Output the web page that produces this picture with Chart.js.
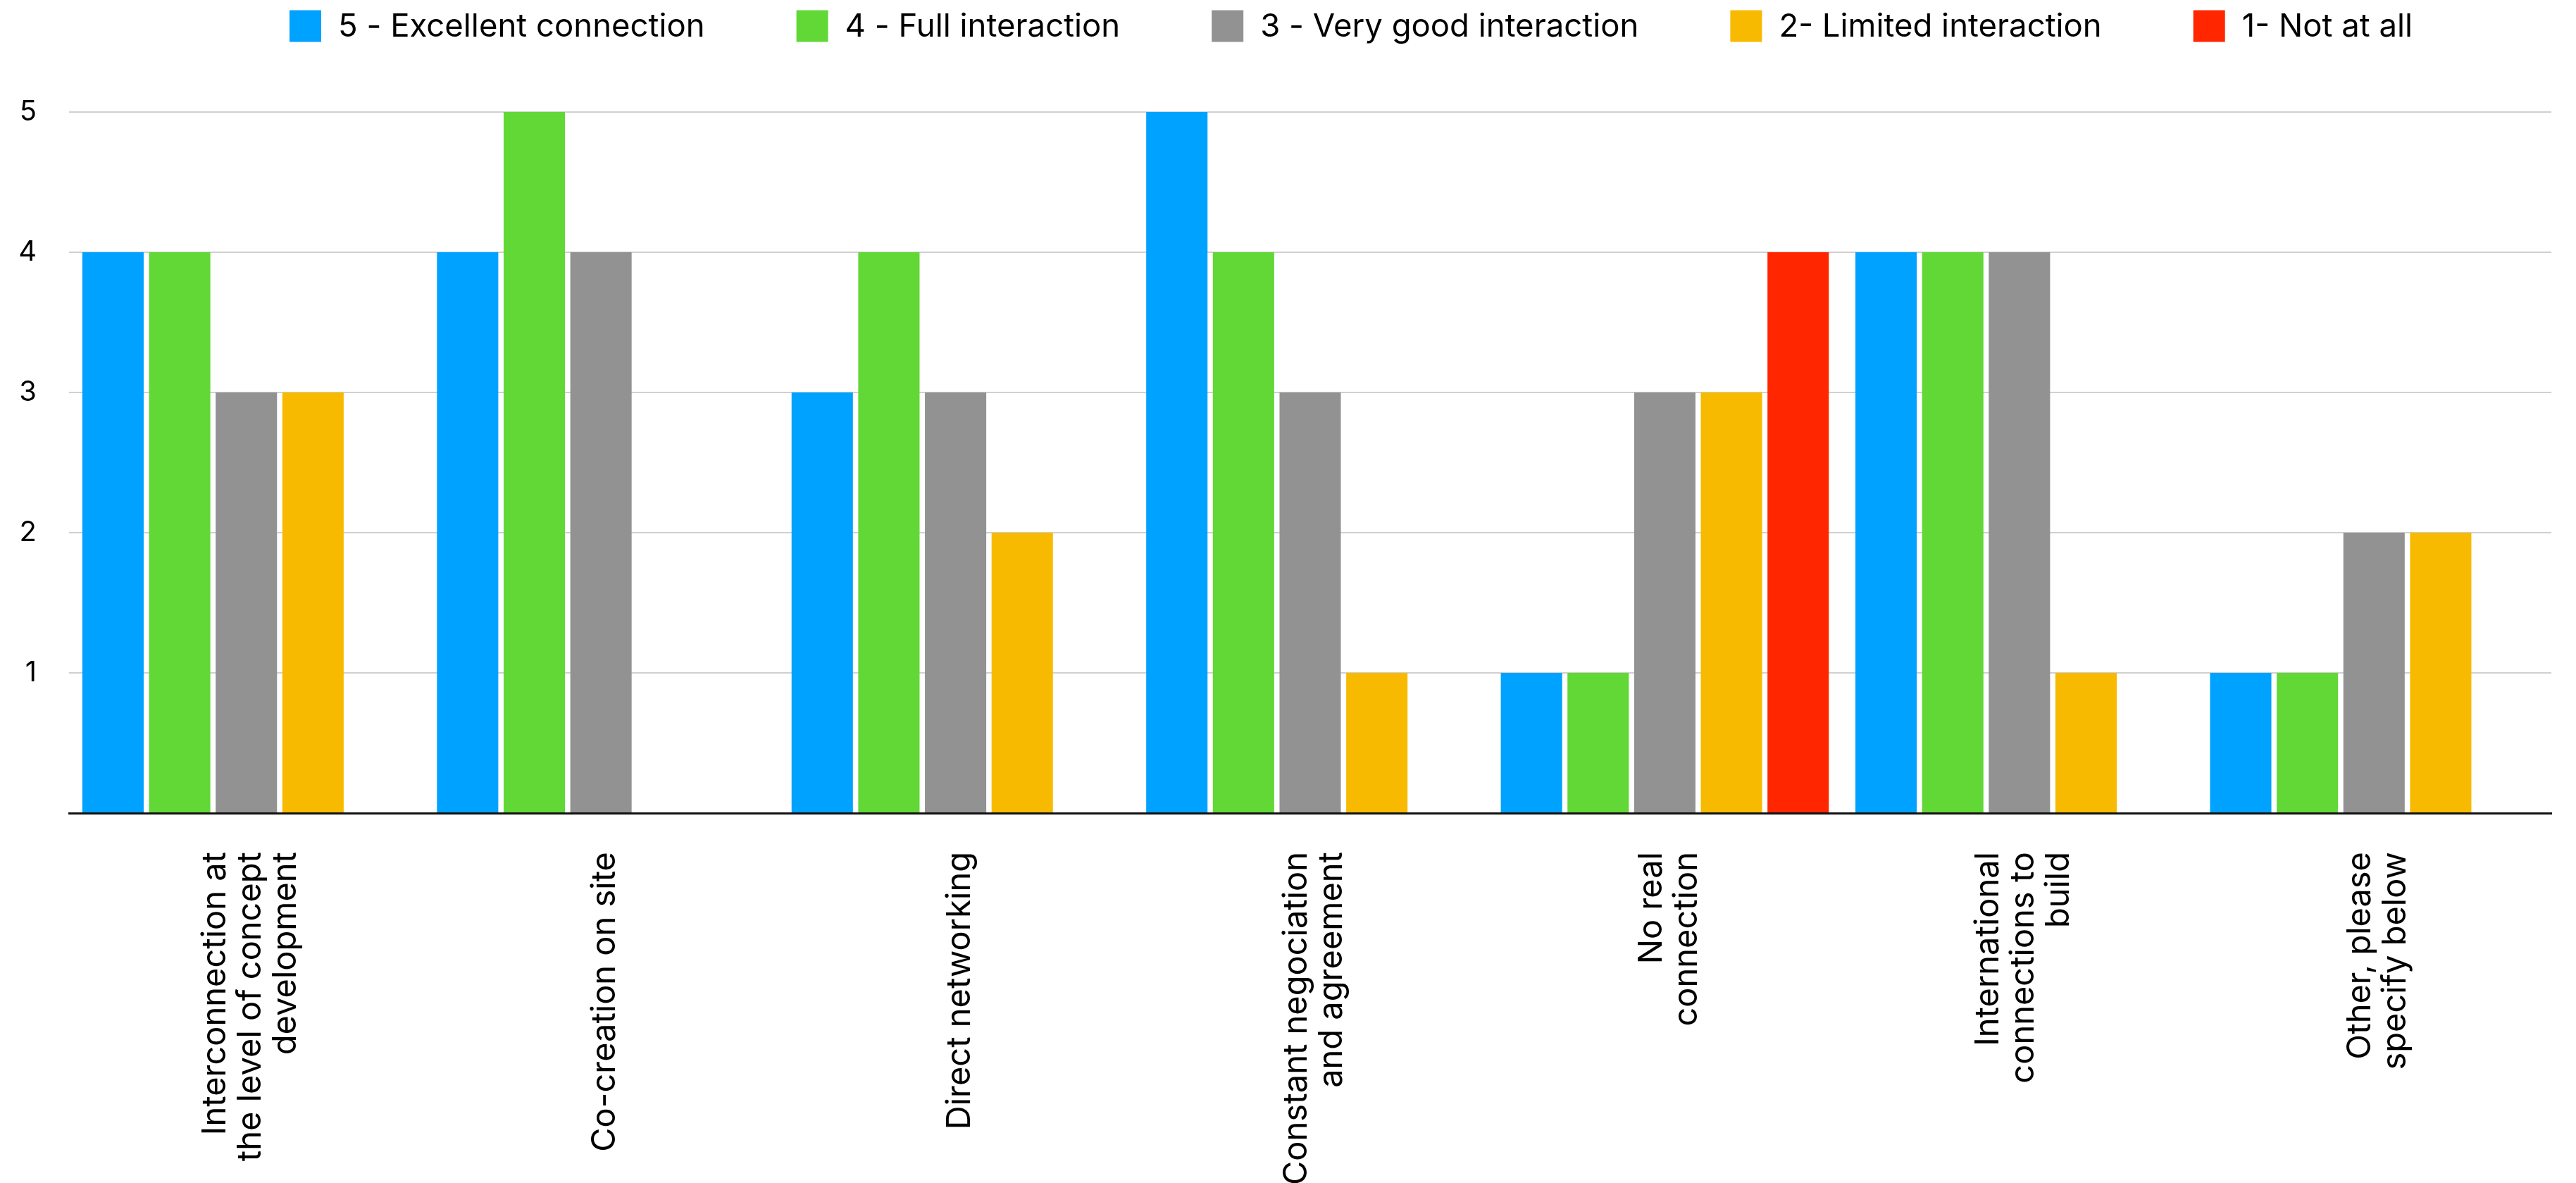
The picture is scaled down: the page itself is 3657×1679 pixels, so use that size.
<!DOCTYPE html>
<html>
<head>
<meta charset="utf-8">
<script src="https://cdn.jsdelivr.net/npm/chart.js@4.4.1/dist/chart.umd.min.js"></script>
<style>
  html, body { margin: 0; padding: 0; background: #fff; }
  canvas { display: block; }
</style>
</head>
<body>
<canvas id="chart" width="3657" height="1679"></canvas>
<script>
// categories, one entry per line of the rotated label
const categories = [
	["Interconnection at", "the level of concept", "development"],
	["Co-creation on site"],
	["Direct networking"],
	["Constant negociation", "and agreement"],
	["No real", "connection"],
	["International", "connections to", "build"],
	["Other, please", "specify below"]
];

const seriesNames = [
	"5 - Excellent connection",
	"4 - Full interaction",
	"3 - Very good interaction",
	"2- Limited interaction",
	"1- Not at all"
];

const excellent = [4, 4, 3, 5, 1, 4, 1];
const fullInteraction = [4, 5, 4, 4, 1, 4, 1];
const veryGood = [3, 4, 3, 3, 3, 4, 2];
const limited = [3, null, 2, 1, 3, 1, 2];
const notAtAll = [null, null, null, null, 4, null, null];

const yTicks = [0, 1, 2, 3, 4, 5];

const colors = ["#00A2FF", "#61D836", "#929292", "#F8BA00", "#FF2600"];
const seriesValues = [excellent, fullInteraction, veryGood, limited, notAtAll];

const legendPlugin = {
	id: "topLegend",
	afterDraw(chart) {
		const ctx = chart.ctx;
		ctx.save();
		ctx.font = "45.5px Inter";
		ctx.textBaseline = "middle";
		const box = 45, gap = 24, spacing = 130;
		const widths = chart.data.datasets.map(ds => ctx.measureText(ds.label).width);
		const total = widths.reduce((sum, w) => sum + box + gap + w, 0) + spacing * (widths.length - 1);
		let x = 1918 - total / 2;
		const y = 37;
		chart.data.datasets.forEach((ds, i) => {
			ctx.fillStyle = ds.backgroundColor;
			ctx.fillRect(x, y - box / 2, box, box);
			ctx.fillStyle = "#000";
			ctx.fillText(ds.label, x + box + gap, y + 1);
			x += box + gap + widths[i] + spacing;
		});
		ctx.restore();
	}
};

const xLabelPlugin = {
	id: "xLabels",
	afterDraw(chart) {
		const ctx = chart.ctx;
		const scale = chart.scales.x;
		const lineHeight = 50;
		ctx.save();
		ctx.font = "47px Inter";
		ctx.fillStyle = "#000";
		ctx.textAlign = "right";
		ctx.textBaseline = "middle";
		categories.forEach((lines, i) => {
			const x = scale.getPixelForValue(i);
			ctx.save();
			ctx.translate(x, chart.chartArea.bottom + 55);
			ctx.rotate(-Math.PI / 2);
			lines.forEach((line, j) => {
				ctx.fillText(line, 0, (j - (lines.length - 1) / 2) * lineHeight + 6);
			});
			ctx.restore();
		});
		ctx.restore();
	}
};

new Chart(document.getElementById("chart"), {
	type: "bar",
	data: {
		labels: categories.map(lines => lines.join(" ")),
		datasets: seriesNames.map((name, i) => ({
			label: name,
			data: seriesValues[i],
			backgroundColor: colors[i],
			borderWidth: 0,
			categoryPercentage: 0.94,
			barPercentage: 0.92
		}))
	},
	options: {
		responsive: false,
		animation: false,
		devicePixelRatio: 1,
		layout: { padding: { top: 159, bottom: 517, left: 0, right: 35 } },
		plugins: {
			legend: { display: false },
			tooltip: { enabled: false }
		},
		scales: {
			x: {
				grid: { display: false },
				ticks: { display: false },
				border: { display: true, color: "#111", width: 3 }
			},
			y: {
				min: yTicks[0],
				max: yTicks[yTicks.length - 1],
				afterFit: scale => { scale.width = 98; },
				afterBuildTicks: scale => { scale.ticks = yTicks.map(v => ({ value: v })); },
				grid: { color: "#d0d0d0", lineWidth: 2, drawTicks: false },
				border: { display: false },
				ticks: {
					padding: 46,
					color: "#000",
					font: { family: "Inter", size: 40 },
					callback: v => v === 0 ? "" : v
				}
			}
		}
	},
	plugins: [legendPlugin, xLabelPlugin]
});
</script>
</body>
</html>
